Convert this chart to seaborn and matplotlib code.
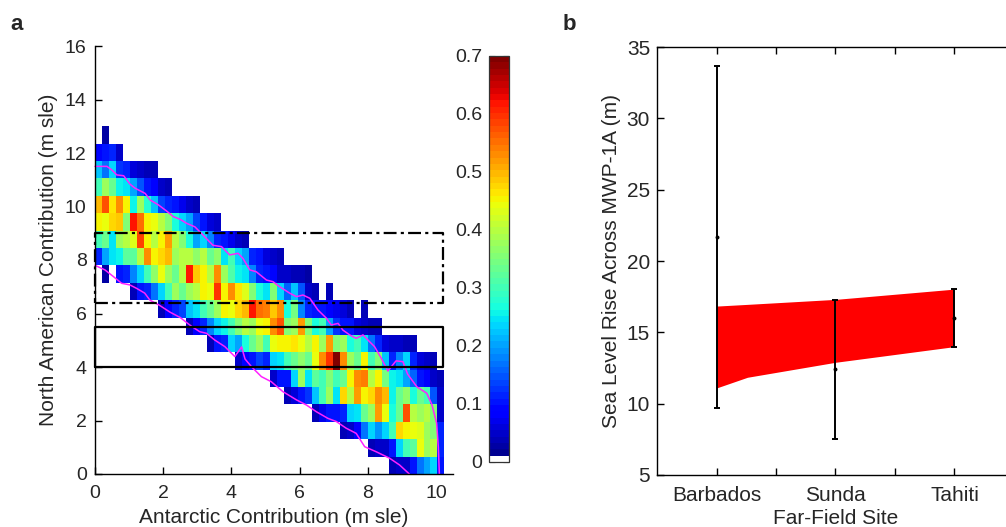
import numpy as np
import matplotlib
matplotlib.use("Agg")
import matplotlib.pyplot as plt
import matplotlib.transforms as mtransforms
from matplotlib.colors import ListedColormap
import seaborn as sns

# ---------------------------------------------------------------- data
# Panel a: joint probability of Antarctic / North American contributions.
# Bins: 50 Antarctic bins of width DX, 20 North-American bins of height DY.
DX = 0.205
DY = 0.65
N_COLS = 50
# row 0 = lowest North American bin; each row = first column + values
row_start = [42, 39, 35, 31, 27, 25, 20, 16, 13, 9, 5, 1, 0, 0, 0, 0, 0, 0, 0, 1]
row_values = [
    [0.04, 0.05, 0.05, 0.1, 0.17, 0.2, 0.23, 0.1],
    [0.04, 0.05, 0.05, 0.1, 0.24, 0.3, 0.32, 0.44, 0.38, 0.4, 0.12],
    [0.04, 0.05, 0.08, 0.17, 0.23, 0.19, 0.23, 0.3, 0.48, 0.45, 0.44, 0.43, 0.38, 0.36, 0.12],
    [0.04, 0.07, 0.1, 0.1, 0.12, 0.24, 0.25, 0.33, 0.38, 0.52, 0.44, 0.27, 0.33, 0.57, 0.4,
     0.38, 0.4, 0.36, 0.05],
    [0.04, 0.06, 0.1, 0.13, 0.22, 0.3, 0.38, 0.25, 0.48, 0.4, 0.52, 0.45, 0.48, 0.53, 0.5,
     0.26, 0.33, 0.37, 0.27, 0.33, 0.3, 0.15, 0.05],
    [0.05, 0.1, 0.1, 0.24, 0.38, 0.25, 0.32, 0.3, 0.35, 0.3, 0.33, 0.45, 0.53, 0.54, 0.4,
     0.45, 0.34, 0.26, 0.25, 0.2, 0.16, 0.1, 0.08, 0.05, 0.04],
    [0.05, 0.08, 0.1, 0.14, 0.12, 0.24, 0.25, 0.3, 0.33, 0.37, 0.33, 0.44, 0.53, 0.6, 0.69,
     0.53, 0.38, 0.33, 0.45, 0.3, 0.36, 0.22, 0.12, 0.18, 0.23, 0.12, 0.06, 0.05, 0.04],
    [0.04, 0.1, 0.12, 0.24, 0.2, 0.27, 0.33, 0.38, 0.3, 0.44, 0.45, 0.45, 0.46, 0.44, 0.4,
     0.45, 0.38, 0.52, 0.35, 0.38, 0.27, 0.3, 0.25, 0.17, 0.12, 0.06, 0.05, 0.05, 0.04, 0.04],
    [0.04, 0.08, 0.12, 0.18, 0.24, 0.26, 0.3, 0.36, 0.4, 0.38, 0.44, 0.45, 0.53, 0.57, 0.35,
     0.38, 0.52, 0.35, 0.27, 0.3, 0.2, 0.13, 0.1, 0.1, 0.06, 0.05, 0.04, 0.04],
    [0.04, 0.08, 0.12, 0.14, 0.22, 0.25, 0.3, 0.33, 0.38, 0.45, 0.44, 0.48, 0.5, 0.62, 0.55,
     0.54, 0.49, 0.53, 0.27, 0.34, 0.18, 0.12, 0.1, 0.1, 0.08, 0.07, 0.06, 0.04, 0.0, 0.04],
    [0.04, 0.1, 0.11, 0.17, 0.24, 0.3, 0.38, 0.33, 0.38, 0.4, 0.45, 0.44, 0.6, 0.45, 0.53,
     0.46, 0.43, 0.35, 0.27, 0.25, 0.36, 0.23, 0.16, 0.22, 0.15, 0.05, 0.04, 0.0, 0.04],
    [0.03, 0.0, 0.1, 0.12, 0.18, 0.23, 0.3, 0.37, 0.44, 0.38, 0.33, 0.4, 0.62, 0.49, 0.45,
     0.4, 0.53, 0.38, 0.31, 0.26, 0.25, 0.18, 0.12, 0.1, 0.09, 0.05, 0.05, 0.04, 0.04, 0.03],
    [0.12, 0.2, 0.25, 0.26, 0.32, 0.32, 0.4, 0.53, 0.45, 0.48, 0.5, 0.38, 0.4, 0.4, 0.37,
     0.4, 0.33, 0.37, 0.25, 0.3, 0.24, 0.2, 0.12, 0.1, 0.06, 0.05, 0.04],
    [0.3, 0.33, 0.25, 0.38, 0.4, 0.43, 0.58, 0.45, 0.4, 0.45, 0.52, 0.4, 0.35, 0.27, 0.2,
     0.23, 0.18, 0.12, 0.1, 0.07, 0.05, 0.04],
    [0.45, 0.44, 0.48, 0.49, 0.36, 0.62, 0.55, 0.45, 0.44, 0.4, 0.36, 0.27, 0.24, 0.2, 0.14,
     0.1, 0.06, 0.05],
    [0.5, 0.57, 0.47, 0.53, 0.45, 0.26, 0.38, 0.28, 0.22, 0.14, 0.12, 0.1, 0.07, 0.05, 0.04],
    [0.3, 0.38, 0.33, 0.26, 0.25, 0.2, 0.15, 0.1, 0.08, 0.05, 0.04],
    [0.22, 0.17, 0.24, 0.13, 0.11, 0.06, 0.05, 0.04, 0.04],
    [0.09, 0.1, 0.11, 0.05],
    [0.03],
]

# magenta credible-region bounds (Antarctic, North American), m sle
upper_x = [0.0, 0.35, 0.5, 0.64, 0.84, 1.03, 1.18, 1.47, 1.62, 1.86, 2.1, 2.3, 2.5, 2.69,
           2.93, 3.07, 3.46, 3.71, 3.95, 4.2, 4.34, 4.54, 4.73, 5.03, 5.22, 5.42, 5.71,
           5.91, 6.1, 6.3, 6.54, 6.79, 6.93, 7.13, 7.27, 7.47, 7.66, 7.86, 8.05, 8.2, 8.4,
           8.59, 8.83, 9.03, 9.17, 9.44, 9.73, 9.88, 10.02, 10.07, 10.1]
upper_y = [11.5, 11.5, 11.36, 11.18, 11.15, 10.83, 10.68, 10.49, 10.24, 10.06, 9.83, 9.62,
           9.52, 9.37, 9.24, 9.06, 8.55, 8.5, 8.19, 8.25, 8.06, 7.63, 7.56, 7.25, 7.19, 7.0,
           6.76, 6.63, 6.69, 6.57, 6.13, 5.82, 5.57, 5.63, 5.38, 5.2, 5.07, 5.2, 4.95, 4.76,
           4.32, 3.85, 4.23, 4.2, 3.73, 3.26, 3.02, 2.6, 1.9, 1.0, 0.0]
lower_x = [0.0, 0.29, 0.54, 0.78, 1.02, 1.22, 1.46, 1.61, 1.9, 2.2, 2.5, 2.8, 3.07, 3.27,
           3.51, 3.81, 4.1, 4.3, 4.4, 4.59, 4.88, 5.17, 5.51, 5.91, 6.2, 6.49, 6.83, 7.08,
           7.37, 7.66, 7.91, 8.25, 8.64, 8.93, 9.22]
lower_y = [7.8, 7.63, 7.38, 7.13, 7.07, 6.94, 6.76, 6.5, 6.3, 6.05, 5.85, 5.55, 5.32, 5.26,
           5.01, 4.76, 4.39, 4.75, 4.3, 4.01, 3.64, 3.45, 3.08, 2.77, 2.58, 2.33, 2.08, 1.96,
           1.71, 1.52, 1.02, 0.83, 0.59, 0.34, 0.0]

# North American constraint boxes (m sle)
box_x_max = 10.2
dashdot_box = [6.4, 9.0]
solid_box = [4.0, 5.5]

x_ticks_a = [0, 2, 4, 6, 8, 10]
y_ticks_a = [0, 2, 4, 6, 8, 10, 12, 14, 16]
cbar_ticks = [0, 0.1, 0.2, 0.3, 0.4, 0.5, 0.6, 0.7]
cbar_labels = ["0", "0.1", "0.2", "0.3", "0.4", "0.5", "0.6", "0.7"]

# Panel b: sea-level rise across MWP-1A at far-field sites
sites = ["Barbados", "Sunda", "Tahiti"]
site_pos = [1, 2, 3]
slr_center = [21.65, 12.4, 16.0]
slr_low = [9.7, 7.55, 14.0]
slr_high = [33.65, 17.27, 18.03]
band_x = [1.0, 1.26, 2.0, 3.0]
band_low = [11.1, 11.85, 12.9, 14.0]
band_high = [16.84, 16.96, 17.31, 18.03]

# ---------------------------------------------------------------- style
sns.set_style("white")
plt.rcParams["font.family"] = ["Liberation Sans", "DejaVu Sans"]
plt.rcParams["font.size"] = 14
TICK_FS = 14
LABEL_FS = 15

W, H = 1006, 527
fig = plt.figure(figsize=(W / 100, H / 100), dpi=100)


def frac(left, top, right, bottom):
    return [left / W, 1 - bottom / H, (right - left) / W, (bottom - top) / H]


ax = fig.add_axes(frac(95, 46, 453, 474))
cax = fig.add_axes(frac(489, 56, 509, 462))
ax2 = fig.add_axes(frac(657, 47, 1014, 475))

# ---------------------------------------------------------------- panel a
grid = np.zeros((len(row_start), N_COLS))
for r, (s, vals) in enumerate(zip(row_start, row_values)):
    grid[r, s:s + len(vals)] = vals

base = plt.get_cmap("jet", 64)(np.arange(64))
base[0] = [1, 1, 1, 1]
cmap = ListedColormap(base)

sns.heatmap(grid, mask=grid <= 0, cmap=cmap, vmin=0, vmax=0.7, ax=ax, cbar_ax=cax,
            xticklabels=False, yticklabels=False)
ax.set_xlim(0, 10.5 / DX)
ax.set_ylim(0, 16 / DY)
ax.set_xticks(np.array(x_ticks_a) / DX)
ax.set_xticklabels([str(t) for t in x_ticks_a], fontsize=TICK_FS)
ax.set_yticks(np.array(y_ticks_a) / DY)
ax.set_yticklabels([str(t) for t in y_ticks_a], fontsize=TICK_FS)
for side in ["left", "bottom"]:
    ax.spines[side].set_visible(True)
    ax.spines[side].set_color("black")
    ax.spines[side].set_linewidth(1.0)
for side in ["top", "right"]:
    ax.spines[side].set_visible(False)
ax.tick_params(direction="in", length=5, width=1, color="black",
               left=True, bottom=True)
ax.tick_params(axis="x", pad=8)
ax.tick_params(axis="y", pad=6)
ax.set_xlabel("Antarctic Contribution (m sle)", fontsize=LABEL_FS, labelpad=4)
ax.set_ylabel("North American Contribution (m sle)", fontsize=LABEL_FS, labelpad=5)

tr = mtransforms.Affine2D().scale(1 / DX, 1 / DY) + ax.transData
ax.plot(upper_x, upper_y, color="#ff22ff", lw=1.1, transform=tr, clip_on=False)
ax.plot(lower_x, lower_y, color="#ff22ff", lw=1.1, transform=tr, clip_on=False)

lo, hi = dashdot_box
ax.plot([0, box_x_max, box_x_max, 0, 0], [lo, lo, hi, hi, lo], color="black", lw=1.6,
        ls=(0, (5.8, 1.9, 1.4, 1.9)), transform=tr, clip_on=False)
lo, hi = solid_box
ax.plot([0, box_x_max, box_x_max, 0, 0], [lo, lo, hi, hi, lo], color="black", lw=1.6,
        transform=tr, clip_on=False)

cbar = ax.collections[0].colorbar
cbar.set_ticks(cbar_ticks)
cbar.set_ticklabels(cbar_labels)
cbar.outline.set_linewidth(0.9)
cbar.outline.set_edgecolor("#333333")
cax.yaxis.set_ticks_position("both")
cax.tick_params(direction="in", length=4, width=0.8, labelsize=TICK_FS,
                labelleft=True, labelright=False, pad=5)

# ---------------------------------------------------------------- panel b
ax2.fill_between(band_x, band_low, band_high, color="red", lw=0)
center = np.array(slr_center)
yerr = [center - np.array(slr_low), np.array(slr_high) - center]
ax2.errorbar(site_pos, slr_center, yerr=yerr, fmt="none", ecolor="black",
             elinewidth=1.4, capsize=2.5, capthick=1.4)
sns.scatterplot(x=site_pos, y=slr_center, ax=ax2, color="black", s=8,
                edgecolor="black", linewidth=0, zorder=5)
ax2.set_xlim(0.5, 3.5)
ax2.set_ylim(5, 35)
ax2.set_xticks([1, 1.5, 2, 2.5, 3])
ax2.set_xticklabels([sites[0], "", sites[1], "", sites[2]], fontsize=LABEL_FS)
ax2.set_yticks([5, 10, 15, 20, 25, 30, 35])
ax2.set_yticklabels(["5", "10", "15", "20", "25", "30", "35"], fontsize=LABEL_FS)
for side in ax2.spines:
    ax2.spines[side].set_visible(True)
    ax2.spines[side].set_color("black")
    ax2.spines[side].set_linewidth(1.0)
ax2.tick_params(direction="in", length=5, width=1, color="black",
                top=True, right=True, left=True, bottom=True)
ax2.tick_params(axis="x", pad=8)
ax2.tick_params(axis="y", pad=5)
ax2.set_xlabel("Far-Field Site", fontsize=LABEL_FS, labelpad=3)
ax2.set_ylabel("Sea Level Rise Across MWP-1A (m)", fontsize=LABEL_FS, labelpad=4)

fig.text(10 / W, 1 - 30 / H, "a", fontsize=16, fontweight="bold", va="baseline")
fig.text(563 / W, 1 - 30 / H, "b", fontsize=16, fontweight="bold", va="baseline")

fig.savefig("out.png", dpi=100)
